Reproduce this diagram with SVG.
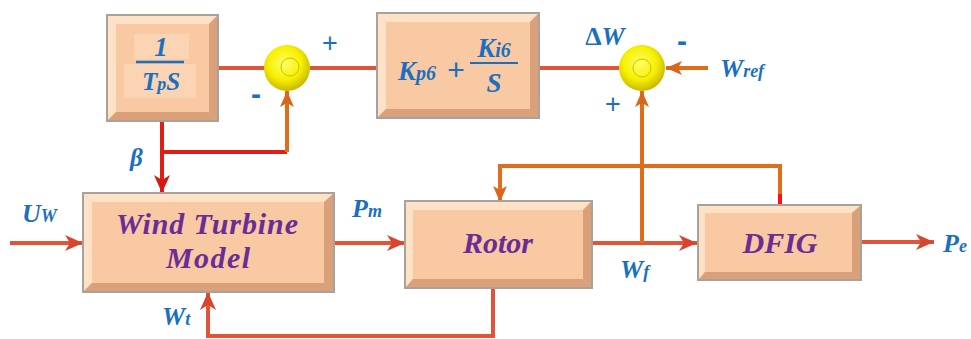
<svg xmlns="http://www.w3.org/2000/svg" width="971" height="339" viewBox="0 0 971 339">
<defs>
<radialGradient id="ball" cx="0.45" cy="0.4" r="0.6">
<stop offset="0" stop-color="#ffff6a"/>
<stop offset="0.6" stop-color="#f6f000"/>
<stop offset="1" stop-color="#c8b800"/>
</radialGradient>
<marker id="ar" markerUnits="userSpaceOnUse" markerWidth="20" markerHeight="16" refX="18" refY="8" orient="auto">
<polygon points="0,0 18,8 0,16 5,8" fill="#d8452c"/>
</marker>
<marker id="ao" markerUnits="userSpaceOnUse" markerWidth="18" markerHeight="14" refX="16" refY="7" orient="auto">
<polygon points="0,0 16,7 0,14 4,7" fill="#d9661a"/>
</marker>
<marker id="arr" markerUnits="userSpaceOnUse" markerWidth="20" markerHeight="16" refX="18" refY="8" orient="auto">
<polygon points="0,0 18,8 0,16 5,8" fill="#d41a14"/>
</marker>
</defs>
<style>
.face{fill:#f8c9a2}
.outer{fill:#f3c19b;stroke:#a8a29c;stroke-width:2}
.lt{fill:#fde2c8}
.dk{fill:#d9a07a}
.ln{fill:none;stroke:#e0553a;stroke-width:4}
.lr{fill:none;stroke:#e01e16;stroke-width:4}
.lo{fill:none;stroke:#e06d1c;stroke-width:4}
.lbl{font-family:"Liberation Serif",serif;font-weight:bold;font-style:italic;fill:#1a6fbf}
.sgn{font-family:"Liberation Sans",sans-serif;fill:#1a6fbf}
.box{font-family:"Liberation Serif",serif;font-weight:bold;font-style:italic;fill:#6a2c95;font-size:30px;text-anchor:middle}
</style>

<g id="connectors">
<line class="ln" x1="218" y1="68" x2="265" y2="68"/>
<line class="ln" x1="310" y1="68" x2="377" y2="68"/>
<line class="ln" x1="539" y1="68" x2="619" y2="68"/>
<line class="lo" x1="708" y1="68" x2="666" y2="68" marker-end="url(#ao)"/>
<line class="lr" x1="162" y1="121" x2="162" y2="193" marker-end="url(#arr)"/>
<polyline class="lr" points="162,152 287,152"/>
<line class="lo" x1="287" y1="152" x2="287" y2="91" marker-end="url(#ao)"/>
<line class="ln" x1="10" y1="243" x2="83" y2="243" marker-end="url(#ar)"/>
<line class="ln" x1="334" y1="243" x2="405" y2="243" marker-end="url(#ar)"/>
<line class="ln" x1="592" y1="243" x2="697" y2="243" marker-end="url(#ar)"/>
<line class="ln" x1="861" y1="242" x2="934" y2="242" marker-end="url(#ar)"/>
<line class="lo" x1="642" y1="243" x2="642" y2="91" marker-end="url(#ao)"/>
<polyline class="lo" points="780,195 780,166 500,166 500,202" marker-end="url(#ao)"/>
<line x1="780" y1="194" x2="780" y2="206" stroke="#ff1010" stroke-width="4"/>
<polyline class="ln" points="493,288 493,336 208,336 208,292" marker-end="url(#ar)"/>
</g>

<g id="box1">
<rect class="outer" x="107" y="15" width="111" height="106"/>
<polygon class="lt" points="108,16 217,16 209,24 116,24"/>
<polygon class="lt" points="108,16 116,24 116,112 108,120"/>
<polygon class="dk" points="217,16 217,120 209,112 209,24"/>
<polygon class="dk" points="108,120 217,120 209,112 116,112"/>
<rect class="face" x="116" y="24" width="93" height="88"/>
<rect x="134" y="34" width="55" height="25" fill="#fbd5b3"/>
<rect x="124" y="64" width="72" height="34" fill="#fbd5b3"/>
<text class="lbl" x="161" y="56" font-size="27" text-anchor="middle">1</text>
<line x1="136" y1="62" x2="184" y2="62" stroke="#1a6fbf" stroke-width="2.5"/>
<text class="lbl" x="161" y="90" font-size="25" text-anchor="middle">T<tspan font-size="18">p</tspan>S</text>
</g>

<g id="sum1">
<circle cx="287" cy="68" r="23" fill="url(#ball)"/>
<circle cx="290" cy="67" r="9" fill="none" stroke="#c8c000" stroke-width="1"/>
</g>

<g id="box2">
<rect class="outer" x="377" y="13" width="162" height="105"/>
<polygon class="lt" points="378,14 538,14 530,22 386,22"/>
<polygon class="lt" points="378,14 386,22 386,109 378,117"/>
<polygon class="dk" points="538,14 538,117 530,109 530,22"/>
<polygon class="dk" points="378,117 538,117 530,109 386,109"/>
<rect class="face" x="386" y="22" width="144" height="87"/>
<text class="lbl" x="398" y="80" font-size="27">K<tspan font-size="20">p6</tspan></text>
<text class="sgn" x="456" y="80" font-size="30" text-anchor="middle">+</text>
<text class="lbl" x="494" y="57" font-size="27" text-anchor="middle">K<tspan font-size="20">i6</tspan></text>
<line x1="470" y1="63" x2="518" y2="63" stroke="#1a6fbf" stroke-width="2"/>
<text class="lbl" x="494" y="92" font-size="27" text-anchor="middle">S</text>
</g>

<g id="sum2">
<circle cx="642" cy="68" r="23" fill="url(#ball)"/>
<circle cx="642" cy="68" r="9" fill="none" stroke="#c8c000" stroke-width="1"/>
</g>

<g id="windturbine">
<rect class="outer" x="83" y="193" width="251" height="99"/>
<polygon class="lt" points="84,194 333,194 324,202 92,202"/>
<polygon class="lt" points="84,194 92,202 92,283 84,291"/>
<polygon class="dk" points="333,194 333,291 324,283 324,202"/>
<polygon class="dk" points="84,291 333,291 324,283 92,283"/>
<rect class="face" x="92" y="202" width="232" height="81"/>
<text class="box" x="207" y="234" textLength="182" lengthAdjust="spacing">Wind Turbine</text>
<text class="box" x="208" y="268" textLength="84" lengthAdjust="spacing">Model</text>
</g>

<g id="rotor">
<rect class="outer" x="405" y="201" width="187" height="87"/>
<polygon class="lt" points="406,202 591,202 583,210 413,210"/>
<polygon class="lt" points="406,202 413,210 413,279 406,287"/>
<polygon class="dk" points="591,202 591,287 583,279 583,210"/>
<polygon class="dk" points="406,287 591,287 583,279 413,279"/>
<rect class="face" x="413" y="210" width="170" height="69"/>
<text class="box" x="498" y="253">Rotor</text>
</g>

<g id="dfig">
<rect class="outer" x="698" y="205" width="163" height="75"/>
<polygon class="lt" points="699,206 860,206 852,213 705,213"/>
<polygon class="lt" points="699,206 705,213 705,272 699,279"/>
<polygon class="dk" points="860,206 860,279 852,272 852,213"/>
<polygon class="dk" points="699,279 860,279 852,272 705,272"/>
<rect class="face" x="705" y="213" width="147" height="59"/>
<text class="box" x="780" y="253">DFIG</text>
</g>

<g id="labels">
<text class="sgn" x="330" y="52" font-size="27" text-anchor="middle">+</text>
<text class="sgn" x="256" y="104" font-size="30" font-weight="bold" text-anchor="middle">-</text>
<text class="lbl" x="605" y="45" font-size="26" text-anchor="middle"><tspan font-style="normal">Δ</tspan>W</text>
<text class="sgn" x="682" y="51" font-size="30" font-weight="bold" text-anchor="middle">-</text>
<text class="sgn" x="613" y="113" font-size="27" text-anchor="middle">+</text>
<text class="lbl" x="720" y="77" font-size="26">W<tspan font-size="18">ref</tspan></text>
<text class="lbl" x="130" y="166" font-size="25">β</text>
<text class="lbl" x="22" y="222" font-size="26">U<tspan font-size="18">W</tspan></text>
<text class="lbl" x="352" y="217" font-size="26">P<tspan font-size="18">m</tspan></text>
<text class="lbl" x="620" y="278" font-size="26">W<tspan font-size="18">f</tspan></text>
<text class="lbl" x="162" y="325" font-size="26">W<tspan font-size="18">t</tspan></text>
<text class="lbl" x="943" y="252" font-size="26">P<tspan font-size="18">e</tspan></text>
</g>
</svg>
